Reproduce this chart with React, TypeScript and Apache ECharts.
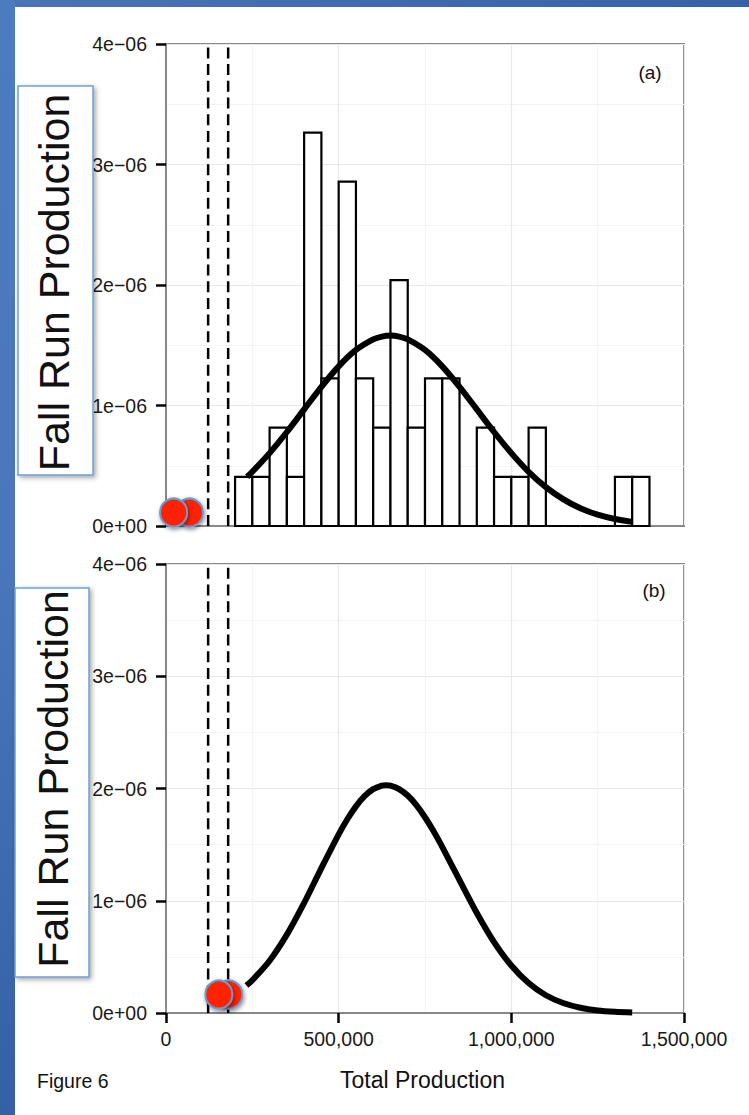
import React, { useEffect, useRef } from "react";
import * as echarts from "echarts";

const FONT = '"Liberation Sans", Arial, Helvetica, sans-serif';

// ---- data ----
const binWidth = 50000;
const binStarts = [
  200000, 250000, 300000, 350000, 400000, 450000, 500000, 550000, 600000, 650000,
  700000, 750000, 800000, 850000, 900000, 950000, 1000000, 1050000, 1100000, 1150000,
  1200000, 1250000, 1300000, 1350000,
];
const binCounts = [1, 1, 2, 1, 8, 3, 7, 3, 2, 5, 2, 3, 3, 0, 2, 1, 1, 2, 0, 0, 0, 0, 1, 1];
const totalCount = 49;

// densities in units of 1e-6
const curveAX = [
  235000, 250000, 300000, 350000, 400000, 450000, 500000, 550000, 600000, 625000, 650000, 675000, 700000, 750000,
  800000, 850000, 900000, 950000, 1000000, 1050000, 1100000, 1150000, 1200000, 1250000, 1300000, 1350000,
];
const curveAY = [
  0.409, 0.45, 0.605, 0.78, 0.968, 1.155, 1.325, 1.461, 1.549, 1.572, 1.58, 1.572, 1.549, 1.461,
  1.325, 1.155, 0.968, 0.78, 0.605, 0.45, 0.323, 0.223, 0.147, 0.094, 0.058, 0.034,
];
const curveBX = [
  233000, 250000, 300000, 350000, 400000, 450000, 500000, 525000, 550000, 575000, 600000, 625000, 637000,
  650000, 675000, 700000, 725000, 750000, 775000, 800000, 850000, 900000, 950000, 1000000, 1050000,
  1100000, 1150000, 1200000, 1250000, 1300000, 1350000,
];
const curveBY = [
  0.245, 0.292, 0.466, 0.698, 0.981, 1.291, 1.592, 1.726, 1.841, 1.931, 1.994, 2.026, 2.03,
  2.026, 1.995, 1.937, 1.852, 1.744, 1.619, 1.48, 1.183, 0.891, 0.632, 0.423, 0.267,
  0.158, 0.089, 0.047, 0.023, 0.011, 0.005,
];
const dashX = [122000, 180000];
const dotsAX = [68000, 22000];
const dotsAY = [0.112, 0.112];
const dotsBX = [182000, 153000];
const dotsBY = [0.165, 0.165];

const yTickLabels = ["0e+00", "1e\u221206", "2e\u221206", "3e\u221206", "4e\u221206"];
const xTickLabels = ["0", "500,000", "1,000,000", "1,500,000"];
const panelLabels = ["(a)", "(b)"];
const yTitle = "Fall Run Production";
const xTitle = "Total Production";
const figureLabel = "Figure 6";

const GRID_GREY = "#888888";

function makeXAxis(gridIndex: number, showLabels: boolean) {
  return {
    type: "value",
    gridIndex,
    min: 0,
    max: 1500000,
    interval: 500000,
    axisLine: { show: true, lineStyle: { color: GRID_GREY, width: 2 } },
    axisTick: { show: showLabels, length: 10, lineStyle: { color: "#000", width: 2.5 } },
    axisLabel: {
      show: showLabels,
      margin: 16,
      fontSize: 19.5,
      color: "#1a1a1a",
      fontFamily: FONT,
      formatter: (v: number) => xTickLabels[Math.round(v / 500000)],
    },
    splitLine: { show: true, lineStyle: { color: "#e8e8e8", width: 1.2 } },
    minorTick: { show: false, splitNumber: 2 },
    minorSplitLine: { show: true, lineStyle: { color: "#f4f4f4", width: 1.2 } },
  };
}

function makeYAxis(gridIndex: number) {
  return {
    type: "value",
    gridIndex,
    min: 0,
    max: 4,
    interval: 1,
    axisLine: { show: true, lineStyle: { color: GRID_GREY, width: 2 } },
    axisTick: { show: true, length: 10, lineStyle: { color: "#000", width: 2.5 } },
    axisLabel: {
      margin: 19,
      fontSize: 19.5,
      color: "#1a1a1a",
      fontFamily: FONT,
      formatter: (v: number) => yTickLabels[Math.round(v)],
    },
    splitLine: { show: true, lineStyle: { color: "#e8e8e8", width: 1.2 } },
    minorTick: { show: false, splitNumber: 2 },
    minorSplitLine: { show: true, lineStyle: { color: "#f4f4f4", width: 1.2 } },
  };
}

function dashSeries(gi: number) {
  return dashX.map((x) => ({
    type: "line",
    xAxisIndex: gi,
    yAxisIndex: gi,
    data: [
      [x, 0],
      [x, 4],
    ],
    symbol: "none",
    silent: true,
    z: 3,
    lineStyle: { color: "#000", width: 2.5, type: [11, 5.7] },
  }));
}

function dotSeries(gi: number, xs: number[], ys: number[]) {
  return {
    type: "scatter",
    xAxisIndex: gi,
    yAxisIndex: gi,
    data: xs.map((x, i) => [x, ys[i]]),
    symbol: "circle",
    symbolSize: [27, 28],
    clip: false,
    silent: true,
    z: 10,
    itemStyle: {
      color: "#ff2200",
      opacity: 1,
      borderColor: "#6b9bd2",
      borderWidth: 2,
      shadowBlur: 4,
      shadowColor: "rgba(0,0,0,0.45)",
      shadowOffsetX: 1,
      shadowOffsetY: 2,
    },
  };
}

function curveSeries(gi: number, xs: number[], ys: number[]) {
  return {
    type: "line",
    xAxisIndex: gi,
    yAxisIndex: gi,
    data: xs.map((x, i) => [x, ys[i]]),
    smooth: 0.3,
    symbol: "none",
    silent: true,
    z: 5,
    lineStyle: { color: "#000", width: 6, cap: "butt", join: "round" },
  };
}

function labelBox(x: number, y: number, w: number, h: number, tx: number, ty: number) {
  return {
    type: "group",
    z: 100,
    children: [
      {
        type: "rect",
        shape: { x, y, width: w, height: h },
        z: 100,
        style: {
          fill: "#ffffff",
          stroke: "#6e9fd6",
          lineWidth: 1.5,
          shadowBlur: 5,
          shadowColor: "rgba(0,0,0,0.35)",
          shadowOffsetX: 2,
          shadowOffsetY: 2,
        },
      },
      {
        type: "text",
        x: tx,
        y: ty,
        rotation: Math.PI / 2,
        z: 101,
        style: {
          text: yTitle,
          fill: "#111",
          fontSize: 43,
          fontFamily: FONT,
          align: "center",
          verticalAlign: "middle",
        },
      },
    ],
  };
}

function buildOption() {
  const histData = binStarts.map((b, i) => [b, b + binWidth, (binCounts[i] / (totalCount * binWidth)) * 1e6]);
  return {
    animation: false,
    backgroundColor: "#ffffff",
    textStyle: { fontFamily: FONT },
    grid: [
      { left: 166, top: 44, width: 518, height: 482, show: true, borderColor: GRID_GREY, borderWidth: 2, backgroundColor: "transparent" },
      { left: 166, top: 564, width: 518, height: 449, show: true, borderColor: GRID_GREY, borderWidth: 2, backgroundColor: "transparent" },
    ],
    xAxis: [makeXAxis(0, false), makeXAxis(1, true)],
    yAxis: [makeYAxis(0), makeYAxis(1)],
    series: [
      {
        type: "custom",
        xAxisIndex: 0,
        yAxisIndex: 0,
        data: histData,
        encode: { x: [0, 1], y: 2 },
        silent: true,
        z: 2,
        renderItem: (params: any, api: any) => {
          const p0 = api.coord([api.value(0), api.value(2)]);
          const p1 = api.coord([api.value(1), 0]);
          return {
            type: "rect",
            shape: { x: p0[0], y: p0[1], width: p1[0] - p0[0], height: p1[1] - p0[1] },
            style: { fill: "#ffffff", stroke: "#000000", lineWidth: 2.2 },
          };
        },
      },
      ...dashSeries(0),
      curveSeries(0, curveAX, curveAY),
      dotSeries(0, dotsAX, dotsAY),
      ...dashSeries(1),
      curveSeries(1, curveBX, curveBY),
      dotSeries(1, dotsBX, dotsBY),
    ],
    graphic: [
      {
        type: "rect",
        shape: { x: 0, y: 0, width: 749, height: 7 },
        z: 0,
        style: {
          fill: new echarts.graphic.LinearGradient(0, 0, 1, 0, [
            { offset: 0, color: "#4a74b6" },
            { offset: 1, color: "#3762a6" },
          ]),
        },
      },
      {
        type: "rect",
        shape: { x: 0, y: 0, width: 15, height: 1115 },
        z: 0,
        style: {
          fill: new echarts.graphic.LinearGradient(0, 0, 0, 1, [
            { offset: 0, color: "#4d7bbf" },
            { offset: 0.5, color: "#4a77bb" },
            { offset: 1, color: "#3461a6" },
          ]),
        },
      },
      labelBox(18, 86, 75, 389, 54, 282.5),
      labelBox(15, 588, 74, 389, 53, 779),
      {
        type: "text",
        x: 650,
        y: 72,
        z: 50,
        style: { text: panelLabels[0], fill: "#111", fontSize: 19, fontFamily: FONT, align: "center", verticalAlign: "middle" },
      },
      {
        type: "text",
        x: 654,
        y: 590,
        z: 50,
        style: { text: panelLabels[1], fill: "#111", fontSize: 19, fontFamily: FONT, align: "center", verticalAlign: "middle" },
      },
      {
        type: "text",
        x: 422.5,
        y: 1080,
        z: 50,
        style: { text: xTitle, fill: "#111", fontSize: 23, fontFamily: FONT, align: "center", verticalAlign: "middle" },
      },
      {
        type: "text",
        x: 37,
        y: 1081,
        z: 50,
        style: { text: figureLabel, fill: "#111", fontSize: 19.5, fontFamily: FONT, align: "left", verticalAlign: "middle" },
      },
    ],
  };
}

export default function App() {
  const ref = useRef<HTMLDivElement>(null);
  useEffect(() => {
    if (!ref.current) return;
    const chart = echarts.init(ref.current, null, { renderer: "svg" });
    chart.setOption(buildOption() as any);
    return () => chart.dispose();
  }, []);
  return (
    <div
      ref={ref}
      style={{ position: "absolute", left: 0, top: 0, width: 749, height: 1115, background: "#ffffff" }}
    />
  );
}
